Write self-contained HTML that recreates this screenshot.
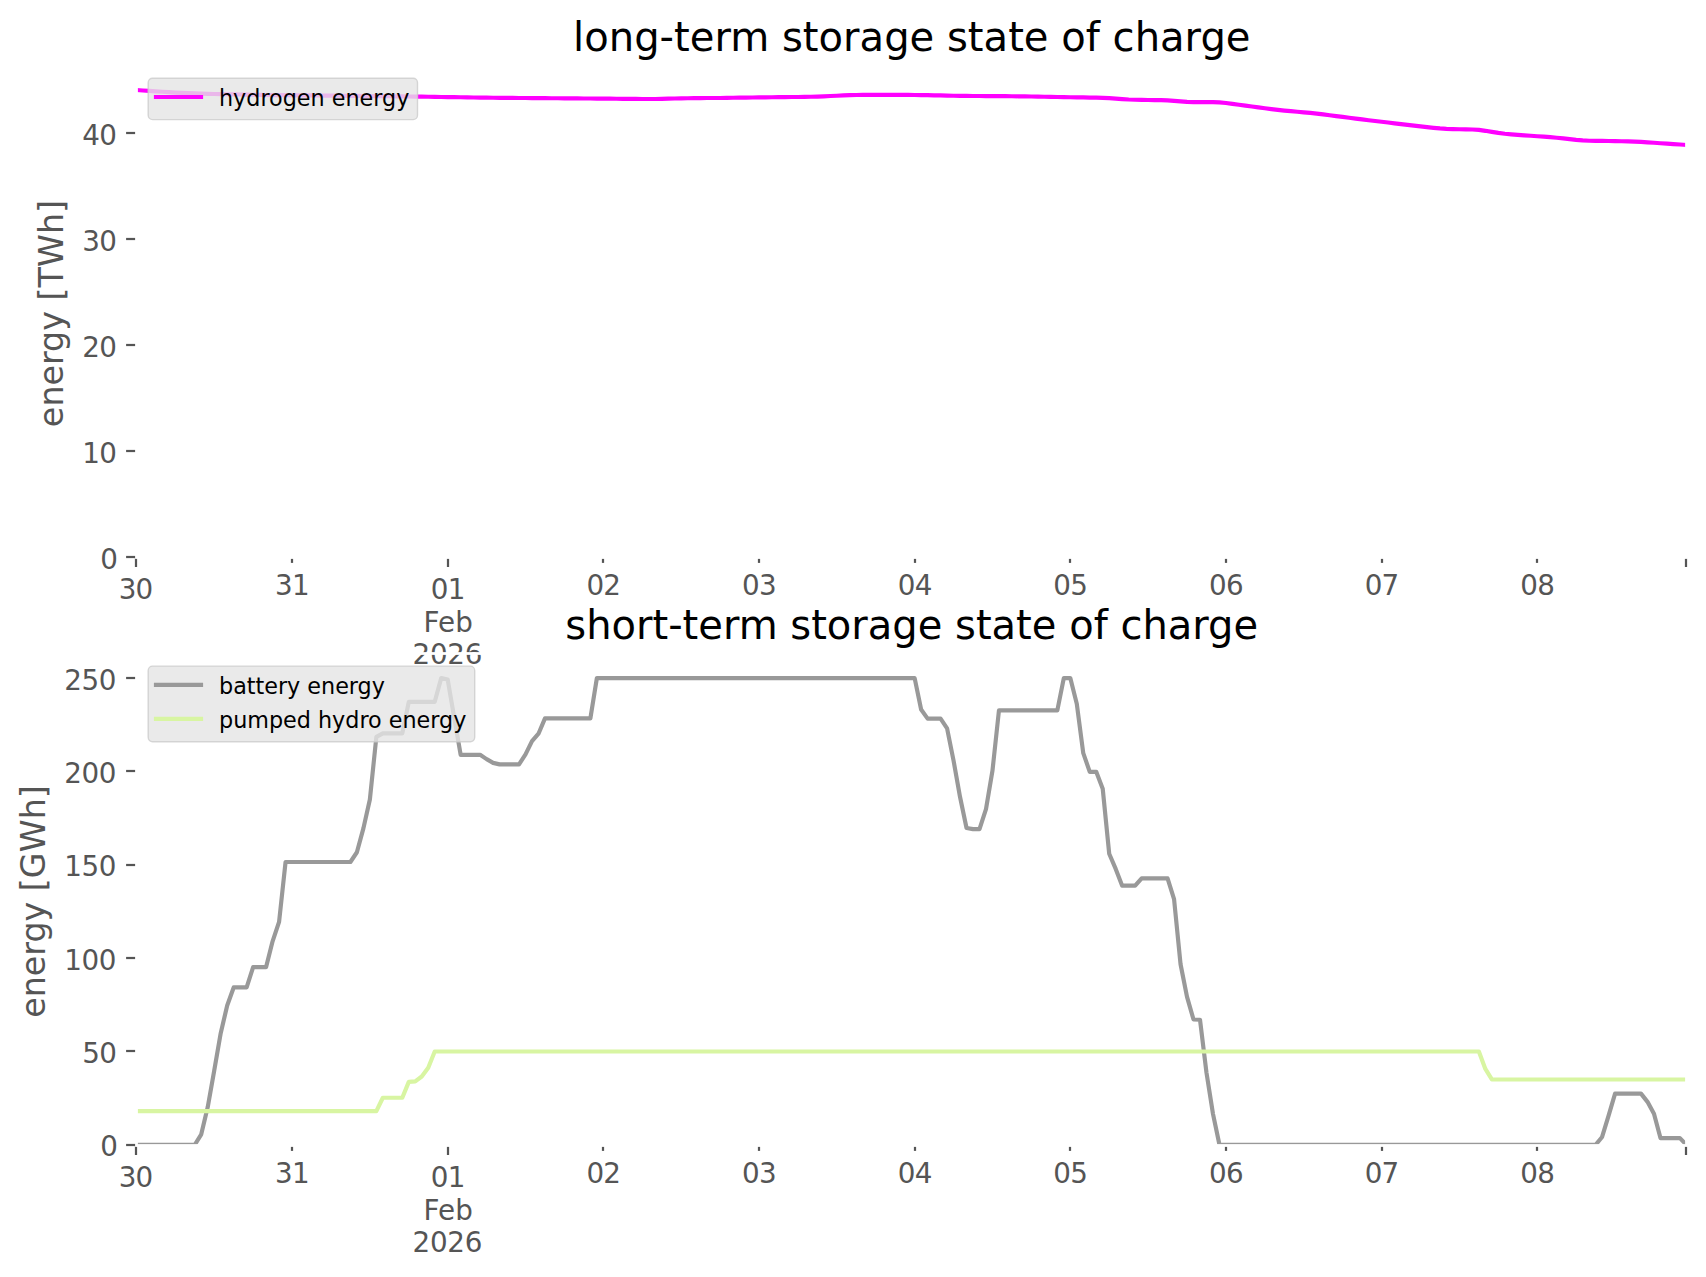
<!DOCTYPE html>
<html lang="en"><head><meta charset="utf-8"><title>storage state of charge</title>
<style>html,body{margin:0;padding:0;background:#fff}body{width:1706px;height:1277px;overflow:hidden}svg{display:block}</style>
</head><body>
<svg width="1706" height="1277" viewBox="0 0 1706 1277" font-family="'DejaVu Sans', 'Liberation Sans', sans-serif">
<rect width="1706" height="1277" fill="#ffffff"/>
<defs>
<clipPath id="ct"><rect x="136" y="65.5" width="1551" height="491.5"/></clipPath>
<clipPath id="cb"><rect x="136" y="653.5" width="1551" height="491.5"/></clipPath>
</defs>
<g stroke="#555555" stroke-width="2.22" fill="none">
<path d="M136 557.0V567.00"/>
<path d="M292 557.0V562.90"/>
<path d="M448 557.0V567.00"/>
<path d="M603 557.0V562.90"/>
<path d="M759 557.0V562.90"/>
<path d="M915 557.0V562.90"/>
<path d="M1070 557.0V562.90"/>
<path d="M1226 557.0V562.90"/>
<path d="M1382 557.0V562.90"/>
<path d="M1537 557.0V562.90"/>
<path d="M1686 557.0V567.00"/>
<path d="M136 557H126.1"/>
<path d="M136 451H126.1"/>
<path d="M136 345H126.1"/>
<path d="M136 239H126.1"/>
<path d="M136 133H126.1"/>
</g>
<g fill="#555555" font-size="27.78" text-anchor="middle">
<text x="135.60" y="598.50" letter-spacing="-0.7">30</text>
<text x="292.05" y="594.75" letter-spacing="-0.7">31</text>
<text x="447.70" y="598.50" letter-spacing="-0.7">01</text>
<text x="448.20" y="632.40">Feb</text>
<text x="447.30" y="663.70" letter-spacing="-0.3">2026</text>
<text x="603.35" y="594.75" letter-spacing="-0.7">02</text>
<text x="759.00" y="594.75" letter-spacing="-0.7">03</text>
<text x="914.65" y="594.75" letter-spacing="-0.7">04</text>
<text x="1070.30" y="594.75" letter-spacing="-0.7">05</text>
<text x="1225.95" y="594.75" letter-spacing="-0.7">06</text>
<text x="1381.60" y="594.75" letter-spacing="-0.7">07</text>
<text x="1537.25" y="594.75" letter-spacing="-0.7">08</text>
</g>
<g fill="#555555" font-size="27.78" text-anchor="end">
<text x="117.1" y="569.40" letter-spacing="-0.7">0</text>
<text x="116.3" y="463.40" letter-spacing="-0.7">10</text>
<text x="116.3" y="357.40" letter-spacing="-0.7">20</text>
<text x="116.3" y="251.40" letter-spacing="-0.7">30</text>
<text x="116.3" y="145.40" letter-spacing="-0.7">40</text>
</g>
<text transform="translate(63.3 313.55) rotate(-90)" fill="#555555" font-size="33.33" text-anchor="middle">energy [TWh]</text>
<text x="911.8" y="51.3" fill="#000000" font-size="40.1" text-anchor="middle">long-term storage state of charge</text>
<g clip-path="url(#ct)" fill="none" stroke-width="4.17" stroke-linejoin="round" stroke-linecap="square">
<polyline stroke="#ff00ff" points="136.40,90.04 142.89,90.50 149.37,90.93 155.86,91.35 162.34,91.76 168.83,92.18 175.31,92.58 181.80,92.92 188.28,93.17 194.77,93.38 201.25,93.59 207.74,93.80 214.22,94.00 220.71,94.16 227.20,94.28 233.68,94.40 240.17,94.52 246.65,94.63 253.14,94.75 259.62,94.87 266.11,94.97 272.59,95.05 279.08,95.12 285.56,95.18 292.05,95.24 298.54,95.30 305.02,95.36 311.51,95.42 317.99,95.49 324.48,95.55 330.96,95.61 337.45,95.68 343.93,95.76 350.42,95.83 356.90,95.90 363.39,95.98 369.87,96.05 376.36,96.12 382.85,96.19 389.33,96.27 395.82,96.34 402.30,96.41 408.79,96.49 415.27,96.56 421.76,96.65 428.24,96.75 434.73,96.85 441.21,96.96 447.70,97.06 454.18,97.16 460.67,97.27 467.16,97.37 473.64,97.47 480.13,97.58 486.61,97.68 493.10,97.77 499.58,97.84 506.07,97.89 512.55,97.94 519.04,97.99 525.52,98.03 532.01,98.08 538.49,98.13 544.98,98.18 551.47,98.23 557.95,98.28 564.44,98.32 570.92,98.37 577.41,98.42 583.89,98.47 590.38,98.52 596.86,98.58 603.35,98.64 609.83,98.70 616.32,98.76 622.81,98.82 629.29,98.88 635.78,98.94 642.26,99.00 648.75,99.04 655.23,99.00 661.72,98.87 668.20,98.70 674.69,98.53 681.17,98.36 687.66,98.21 694.14,98.11 700.63,98.07 707.12,98.04 713.60,98.02 720.09,97.97 726.57,97.88 733.06,97.77 739.54,97.67 746.03,97.56 752.51,97.46 759.00,97.37 765.48,97.30 771.97,97.23 778.45,97.16 784.94,97.10 791.43,97.03 797.91,96.96 804.40,96.89 810.88,96.78 817.37,96.58 823.85,96.31 830.34,96.02 836.82,95.73 843.31,95.43 849.79,95.17 856.28,95.00 862.76,94.95 908.16,94.95 914.65,94.98 921.13,95.06 927.62,95.18 934.10,95.32 940.59,95.45 947.08,95.58 953.56,95.71 960.05,95.83 966.53,95.92 973.02,95.97 979.50,96.02 985.99,96.06 992.47,96.11 998.96,96.15 1005.44,96.20 1011.93,96.24 1018.41,96.30 1024.90,96.39 1031.39,96.51 1037.87,96.62 1044.36,96.74 1050.84,96.86 1057.33,96.98 1063.81,97.09 1070.30,97.21 1076.78,97.33 1083.27,97.45 1089.75,97.56 1096.24,97.68 1102.72,97.85 1109.21,98.17 1115.70,98.61 1122.18,99.09 1128.67,99.51 1135.15,99.77 1141.64,99.88 1148.12,99.96 1154.61,100.05 1161.09,100.14 1167.58,100.37 1174.06,100.84 1180.55,101.43 1187.03,101.89 1193.52,102.08 1200.01,102.10 1212.98,102.10 1219.46,102.32 1225.95,102.98 1232.43,103.85 1238.92,104.73 1245.40,105.61 1251.89,106.49 1258.37,107.37 1264.86,108.25 1271.35,109.13 1277.83,109.94 1284.32,110.61 1290.80,111.20 1297.29,111.78 1303.77,112.36 1310.26,112.94 1316.74,113.60 1323.23,114.38 1329.71,115.23 1336.20,116.08 1342.68,116.93 1349.17,117.78 1355.66,118.62 1362.14,119.44 1368.63,120.22 1375.11,121.00 1381.60,121.77 1388.08,122.54 1394.57,123.31 1401.05,124.08 1407.54,124.85 1414.02,125.62 1420.51,126.39 1426.99,127.13 1433.48,127.82 1439.97,128.44 1446.45,128.90 1452.94,129.12 1459.42,129.22 1465.91,129.32 1472.39,129.48 1478.88,129.94 1485.36,130.81 1491.85,131.85 1498.33,132.89 1504.82,133.78 1511.30,134.38 1517.79,134.84 1524.28,135.30 1530.76,135.76 1537.25,136.22 1543.73,136.68 1550.22,137.16 1556.70,137.72 1563.19,138.40 1569.67,139.13 1576.16,139.86 1582.64,140.44 1589.13,140.71 1595.62,140.82 1602.10,140.93 1608.59,141.04 1615.07,141.15 1621.56,141.26 1628.04,141.37 1634.53,141.56 1641.01,141.89 1647.50,142.32 1653.98,142.77 1660.47,143.21 1666.95,143.65 1673.44,144.09 1679.93,144.53 1686.41,144.95"/>
</g>
<rect x="136.5" y="65.5" width="1550" height="492.0" fill="none" stroke="#ffffff" stroke-width="2.78"/>
<rect x="148.2" y="78.2" width="269.3" height="41.4" rx="4.4" ry="4.4" fill="#e5e5e5" fill-opacity="0.8" stroke="#cccccc" stroke-opacity="0.8" stroke-width="1.39"/>
<path d="M153.9 97.0H203.1" stroke="#ff00ff" stroke-width="4.17" fill="none"/>
<text x="219.0" y="105.70" fill="#000000" font-size="22.27">hydrogen energy</text>
<g stroke="#555555" stroke-width="2.22" fill="none">
<path d="M136 1145.0V1155.00"/>
<path d="M292 1145.0V1150.90"/>
<path d="M448 1145.0V1155.00"/>
<path d="M603 1145.0V1150.90"/>
<path d="M759 1145.0V1150.90"/>
<path d="M915 1145.0V1150.90"/>
<path d="M1070 1145.0V1150.90"/>
<path d="M1226 1145.0V1150.90"/>
<path d="M1382 1145.0V1150.90"/>
<path d="M1537 1145.0V1150.90"/>
<path d="M1686 1145.0V1155.00"/>
<path d="M136 1145H126.1"/>
<path d="M136 1051H126.1"/>
<path d="M136 958H126.1"/>
<path d="M136 865H126.1"/>
<path d="M136 771H126.1"/>
<path d="M136 678H126.1"/>
</g>
<g fill="#555555" font-size="27.78" text-anchor="middle">
<text x="135.60" y="1186.50" letter-spacing="-0.7">30</text>
<text x="292.05" y="1182.75" letter-spacing="-0.7">31</text>
<text x="447.70" y="1186.50" letter-spacing="-0.7">01</text>
<text x="448.20" y="1220.40">Feb</text>
<text x="447.30" y="1251.70" letter-spacing="-0.3">2026</text>
<text x="603.35" y="1182.75" letter-spacing="-0.7">02</text>
<text x="759.00" y="1182.75" letter-spacing="-0.7">03</text>
<text x="914.65" y="1182.75" letter-spacing="-0.7">04</text>
<text x="1070.30" y="1182.75" letter-spacing="-0.7">05</text>
<text x="1225.95" y="1182.75" letter-spacing="-0.7">06</text>
<text x="1381.60" y="1182.75" letter-spacing="-0.7">07</text>
<text x="1537.25" y="1182.75" letter-spacing="-0.7">08</text>
</g>
<g fill="#555555" font-size="27.78" text-anchor="end">
<text x="117.1" y="1156.20" letter-spacing="-0.7">0</text>
<text x="116.3" y="1062.86" letter-spacing="-0.7">50</text>
<text x="116.15" y="969.52" letter-spacing="-0.35">100</text>
<text x="116.15" y="876.18" letter-spacing="-0.35">150</text>
<text x="116.15" y="782.84" letter-spacing="-0.35">200</text>
<text x="116.15" y="689.50" letter-spacing="-0.35">250</text>
</g>
<text transform="translate(44.8 901.55) rotate(-90)" fill="#555555" font-size="33.33" text-anchor="middle">energy [GWh]</text>
<text x="911.7" y="639.0" fill="#000000" font-size="40.03" text-anchor="middle">short-term storage state of charge</text>
<g clip-path="url(#cb)" fill="none" stroke-width="4.17" stroke-linejoin="round" stroke-linecap="square">
<polyline stroke="#999999" points="136.40,1144.80 194.77,1144.80 201.25,1134.35 207.74,1107.09 214.22,1070.69 220.71,1033.17 227.20,1005.54 233.68,987.43 246.65,987.43 253.14,967.08 266.11,967.08 272.59,941.32 279.08,921.90 285.56,861.98 350.42,861.98 356.90,852.27 363.39,828.38 369.87,799.44 376.36,736.90 382.85,733.36 402.30,733.36 408.79,701.81 434.73,701.81 441.21,678.10 447.70,679.59 454.18,717.30 460.67,754.83 480.13,754.83 486.61,759.12 493.10,762.85 499.58,764.35 519.04,764.35 525.52,754.45 532.01,741.20 538.49,733.73 544.98,718.42 590.38,718.42 596.86,678.10 914.65,678.10 921.13,709.46 927.62,718.61 940.59,718.61 947.08,728.32 953.56,760.61 960.05,797.02 966.53,828.00 973.02,829.12 979.50,829.12 985.99,809.15 992.47,770.69 998.96,710.40 1057.33,710.40 1063.81,678.10 1070.30,678.10 1076.78,703.68 1083.27,753.15 1089.75,771.81 1096.24,771.81 1102.72,788.80 1109.21,853.77 1115.70,868.89 1122.18,885.69 1135.15,885.69 1141.64,878.41 1167.58,878.41 1174.06,899.13 1180.55,964.28 1187.03,996.95 1193.52,1019.54 1200.01,1019.72 1206.49,1072.74 1212.98,1113.81 1219.46,1144.80 1595.62,1144.80 1602.10,1136.96 1608.59,1115.68 1615.07,1093.65 1641.01,1093.65 1647.50,1101.86 1653.98,1113.81 1660.47,1138.08 1679.93,1138.08 1686.41,1144.80"/>
<polyline stroke="#d8f5a2" points="136.40,1111.20 376.36,1111.20 382.85,1097.76 402.30,1097.76 408.79,1081.89 415.27,1081.33 421.76,1076.48 428.24,1067.70 434.73,1051.46 1478.88,1051.46 1485.36,1068.91 1491.85,1079.46 1686.41,1079.46"/>
</g>
<rect x="136.5" y="653.5" width="1550" height="492.0" fill="none" stroke="#ffffff" stroke-width="2.78"/>
<rect x="148.2" y="666.1" width="326.5" height="75.6" rx="4.4" ry="4.4" fill="#e5e5e5" fill-opacity="0.8" stroke="#cccccc" stroke-opacity="0.8" stroke-width="1.39"/>
<path d="M153.9 684.9H203.1" stroke="#999999" stroke-width="4.17" fill="none"/>
<text x="219.0" y="693.60" fill="#000000" font-size="22.27">battery energy</text>
<path d="M153.9 718.9H203.1" stroke="#d8f5a2" stroke-width="4.17" fill="none"/>
<text x="219.0" y="727.60" fill="#000000" font-size="22.27">pumped hydro energy</text>
</svg>
</body></html>
